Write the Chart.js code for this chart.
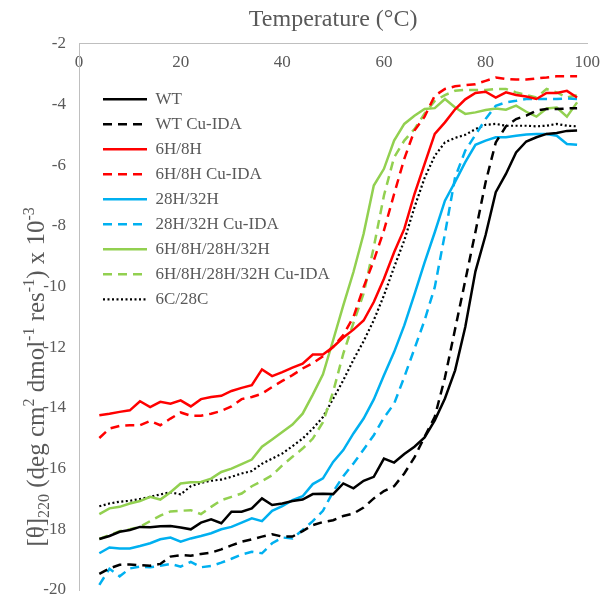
<!DOCTYPE html>
<html>
<head>
<meta charset="utf-8">
<script src="https://cdn.jsdelivr.net/npm/chart.js@4.4.0/dist/chart.umd.min.js"></script>
<style>
  html, body { margin: 0; padding: 0; background: #fff; }
  #wrap { width: 609px; height: 596px; }
</style>
</head>
<body>
<div id="wrap"><canvas id="cdChart"></canvas></div>
<script>
// temperature steps (°C)
const temps = [4, 6, 8, 10, 12, 14, 16, 18, 20, 22, 24, 26, 28, 30, 32, 34, 36, 38, 40, 42,
  44, 46, 48, 50, 52, 54, 56, 58, 60, 62, 64, 66, 68, 70, 72, 74, 76, 78, 80, 82,
  84, 86, 88, 90, 92, 94, 96, 98];

// mean residue ellipticity at 220 nm, x 10^-3
const wt = [-18.32, -18.22, -18.08, -18.02, -17.92, -17.93, -17.90, -17.89, -17.94, -18.00,
  -17.78, -17.67, -17.80, -17.42, -17.42, -17.31, -16.98, -17.20, -17.15, -17.07,
  -17.02, -16.84, -16.83, -16.84, -16.49, -16.65, -16.40, -16.27, -15.67, -15.80,
  -15.52, -15.28, -14.97, -14.41, -13.69, -12.76, -11.33, -9.50, -8.30, -6.89,
  -6.29, -5.58, -5.22, -5.08, -4.97, -4.94, -4.87, -4.86];
const wtCu = [-19.47, -19.29, -19.17, -19.16, -19.18, -19.20, -19.14, -18.90, -18.85, -18.87,
  -18.81, -18.77, -18.66, -18.53, -18.41, -18.33, -18.24, -18.16, -18.24, -18.24,
  -18.06, -17.86, -17.76, -17.70, -17.56, -17.48, -17.28, -16.98, -16.74, -16.58,
  -16.16, -15.63, -14.95, -14.29, -13.00, -11.40, -9.80, -8.20, -6.56, -5.25,
  -4.72, -4.48, -4.37, -4.20, -4.15, -4.15, -4.13, -4.12];
const h68 = [-14.24, -14.19, -14.13, -14.08, -13.78, -13.97, -13.80, -13.86, -13.75, -13.95,
  -13.71, -13.64, -13.60, -13.44, -13.34, -13.25, -12.73, -12.95, -12.82, -12.67,
  -12.54, -12.24, -12.24, -11.99, -11.68, -11.42, -11.12, -10.51, -9.74, -8.87,
  -8.10, -6.95, -5.96, -4.97, -4.59, -4.16, -3.83, -3.62, -3.58, -3.77,
  -3.60, -3.69, -3.74, -3.82, -3.62, -3.62, -3.55, -3.77];
const h68Cu = [-14.99, -14.68, -14.59, -14.57, -14.57, -14.43, -14.57, -14.35, -14.15, -14.26,
  -14.26, -14.19, -14.10, -13.95, -13.71, -13.64, -13.53, -13.31, -13.11, -12.92,
  -12.70, -12.52, -12.30, -11.99, -11.60, -11.00, -10.02, -9.14, -8.15, -6.95,
  -5.79, -4.86, -4.40, -3.71, -3.49, -3.40, -3.36, -3.33, -3.22, -3.11,
  -3.16, -3.18, -3.18, -3.14, -3.11, -3.07, -3.07, -3.07];
const h2832 = [-18.79, -18.60, -18.63, -18.63, -18.55, -18.46, -18.33, -18.27, -18.41, -18.30,
  -18.22, -18.13, -18.00, -17.92, -17.78, -17.64, -17.73, -17.39, -17.24, -17.04,
  -16.91, -16.51, -16.32, -15.78, -15.39, -14.84, -14.35, -13.72, -12.92, -12.16,
  -11.28, -10.26, -9.20, -8.21, -7.17, -6.55, -5.90, -5.33, -5.19, -5.08,
  -5.08, -5.03, -4.99, -4.97, -4.97, -5.03, -5.30, -5.33];
const h2832Cu = [-19.83, -19.30, -19.55, -19.29, -19.23, -19.25, -19.20, -19.14, -19.23, -19.07,
  -19.25, -19.21, -19.10, -18.97, -18.83, -18.74, -18.79, -18.46, -18.27, -18.30,
  -18.02, -17.73, -17.39, -16.76, -16.25, -15.83, -15.37, -14.90, -14.32, -13.86,
  -12.98, -12.05, -11.11, -10.02, -8.26, -6.40, -5.52, -5.00, -4.48, -4.04,
  -3.93, -3.88, -3.82, -3.82, -3.82, -3.82, -3.80, -3.82];
const hAll = [-17.50, -17.31, -17.26, -17.15, -17.07, -16.93, -17.02, -16.78, -16.49, -16.45,
  -16.44, -16.33, -16.11, -16.00, -15.85, -15.70, -15.28, -15.04, -14.79, -14.55,
  -14.19, -13.56, -12.89, -11.77, -10.62, -9.52, -8.26, -6.67, -6.12, -5.19,
  -4.64, -4.37, -4.15, -4.12, -3.82, -4.10, -4.31, -4.26, -4.18, -4.13,
  -4.17, -4.04, -4.24, -4.40, -4.13, -4.10, -4.40, -3.93];
const hAllCu = [-18.32, -18.19, -18.06, -18.00, -17.92, -17.73, -17.55, -17.41, -17.39, -17.37,
  -17.50, -17.26, -17.04, -16.93, -16.82, -16.58, -16.41, -16.22, -15.89, -15.61,
  -15.34, -15.01, -14.47, -13.47, -12.21, -11.20, -10.23, -8.70, -7.00, -5.74,
  -5.19, -4.81, -4.30, -3.88, -3.69, -3.55, -3.52, -3.52, -3.52, -3.49,
  -3.49, -3.60, -3.69, -3.77, -3.49, -3.60, -3.77, -3.69];
const cys = [-17.24, -17.15, -17.09, -17.06, -17.00, -16.93, -16.85, -16.78, -16.85, -16.58,
  -16.47, -16.40, -16.36, -16.27, -16.16, -16.08, -15.84, -15.67, -15.50, -15.26,
  -15.01, -14.68, -14.30, -13.70, -13.09, -12.41, -11.80, -11.11, -10.29, -9.36,
  -8.48, -7.39, -6.42, -5.69, -5.25, -5.10, -5.00, -4.81, -4.67, -4.64,
  -4.70, -4.70, -4.70, -4.72, -4.70, -4.64, -4.70, -4.72];

const seriesNames = ['WT', 'WT Cu-IDA', '6H/8H', '6H/8H Cu-IDA', '28H/32H', '28H/32H Cu-IDA',
  '6H/8H/28H/32H', '6H/8H/28H/32H Cu-IDA', '6C/28C'];
const seriesValues = [wt, wtCu, h68, h68Cu, h2832, h2832Cu, hAll, hAllCu, cys];
const seriesColors = ['#000000', '#000000', '#ff0000', '#ff0000', '#00b0f0', '#00b0f0',
  '#92d050', '#92d050', '#000000'];
const seriesStyle = ['solid', 'dash', 'solid', 'dash', 'solid', 'dash', 'solid', 'dash', 'dot'];

const xTicks = { min: 0, max: 100, step: 20 };
const yTicks = { min: -20, max: -2, step: 2 };

const textGrey = '#595959';
const axisGrey = '#bfbfbf';
const serif = 'Liberation Serif';

const datasets = seriesNames.map((name, i) => {
  const st = seriesStyle[i];
  return {
    label: name,
    data: temps.map((t, k) => ({ x: t, y: seriesValues[i][k] })),
    borderColor: seriesColors[i],
    backgroundColor: seriesColors[i],
    borderWidth: st === 'dot' ? 2.2 : 2.5,
    borderDash: st === 'dash' ? [9, 6] : (st === 'dot' ? [2, 2.5] : []),
    pointRadius: 0,
    tension: 0,
    fill: false
  };
});

// rotated y-axis title with sub/superscripts
const yTitleParts = [
  ['[\u03b8]', 0], ['220', 1], [' (deg cm', 0], ['2', -1], [' dmol', 0], ['-1', -1],
  [' res', 0], ['-1', -1], [') x 10', 0], ['-3', -1]
];
const yTitlePlugin = {
  id: 'yTitle',
  afterDraw(chart) {
    const ctx = chart.ctx;
    const ca = chart.chartArea;
    const big = 25, small = 16;
    ctx.save();
    let total = 0;
    yTitleParts.forEach(([txt, sh]) => {
      ctx.font = (sh ? small : big) + 'px "' + serif + '"';
      total += ctx.measureText(txt).width;
    });
    ctx.translate(44, (ca.top + ca.bottom) / 2 + 60);
    ctx.rotate(-Math.PI / 2);
    ctx.fillStyle = textGrey;
    ctx.textBaseline = 'alphabetic';
    ctx.textAlign = 'left';
    let x = -total / 2;
    yTitleParts.forEach(([txt, sh]) => {
      ctx.font = (sh ? small : big) + 'px "' + serif + '"';
      const dy = sh === 1 ? 5 : (sh === -1 ? -10 : 0);
      ctx.fillText(txt, x, dy);
      x += ctx.measureText(txt).width;
    });
    ctx.restore();
  }
};

// legend sits inside the plot, below the top axis
const legendSpot = {
  id: 'legendSpot',
  beforeDraw(chart) {
    const lg = chart.legend, ca = chart.chartArea;
    lg.left = ca.left + 16;
    lg.top = ca.top + 39;
  }
};

// legend samples keep each series' own line width and dash
function lineLabels(chart) {
  const items = Chart.defaults.plugins.legend.labels.generateLabels(chart);
  items.forEach(item => {
    const ds = chart.data.datasets[item.datasetIndex];
    item.lineWidth = ds.borderWidth;
    item.lineDash = ds.borderDash;
    item.strokeStyle = ds.borderColor;
  });
  return items;
}

new Chart(document.getElementById('cdChart'), {
  type: 'line',
  data: { datasets: datasets },
  options: {
    responsive: true,
    maintainAspectRatio: false,
    animation: false,
    devicePixelRatio: 1,
    layout: { padding: { left: 0, right: 18, top: 0, bottom: 0 } },
    scales: {
      x: {
        type: 'linear',
        position: { y: yTicks.max },
        min: xTicks.min,
        max: xTicks.max,
        ticks: { stepSize: xTicks.step, color: textGrey, font: { family: serif, size: 17 }, padding: 9 },
        grid: { display: false, drawTicks: false },
        border: { display: true, color: axisGrey, width: 1 }
      },
      y: {
        min: yTicks.min,
        max: yTicks.max,
        ticks: { stepSize: yTicks.step, color: textGrey, font: { family: serif, size: 17 }, padding: 13 },
        grid: { display: false, drawTicks: false },
        border: { display: true, color: axisGrey, width: 1 },
        afterFit(s) { s.width = 79; s.paddingBottom = 6; }
      }
    },
    plugins: {
      title: {
        display: true,
        text: 'Temperature (\u00b0C)',
        color: textGrey,
        fullSize: false,
        font: { family: serif, size: 24, weight: 'normal' },
        padding: { top: 5, bottom: 10 }
      },
      legend: {
        position: 'chartArea',
        align: 'start',
        labels: {
          usePointStyle: true,
          pointStyle: 'line',
          pointStyleWidth: 44,
          color: textGrey,
          font: { family: serif, size: 17 },
          padding: 8,
          generateLabels: lineLabels
        }
      },
      tooltip: { enabled: false }
    }
  },
  plugins: [yTitlePlugin, legendSpot]
});
</script>
</body>
</html>
